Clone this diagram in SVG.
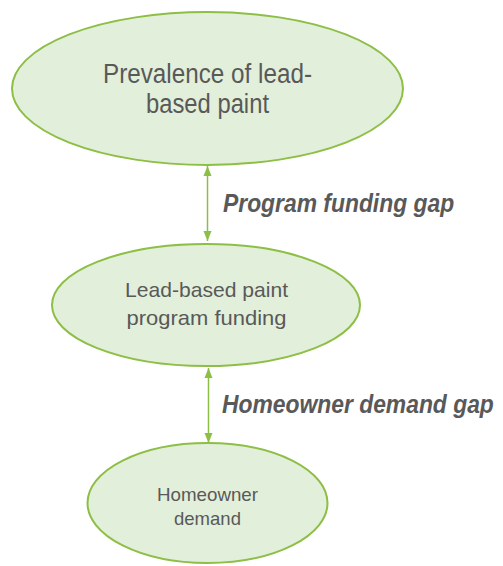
<svg xmlns="http://www.w3.org/2000/svg" width="503" height="566" viewBox="0 0 503 566">
<style>
.node{fill:#E2EFDA;stroke:#8DBE45;stroke-width:2}
.nt{fill:#595959;font-family:"Liberation Sans",Arial,sans-serif;text-anchor:middle}
.gap{fill:#595959;font-family:"Liberation Sans",Arial,sans-serif;font-weight:bold;font-style:italic;font-size:26px}
.conn{stroke:#8DBE45;stroke-width:1.5;fill:none}
</style>
<defs>
<marker id="ah" viewBox="0 0 10 10" refX="10" refY="5" markerWidth="10" markerHeight="10" markerUnits="userSpaceOnUse" orient="auto-start-reverse">
<path d="M0,1 L10,5 L0,9 Z" fill="#8DBE45"/>
</marker>
</defs>
<g id="connectors">
<line class="conn" x1="207.5" y1="166" x2="207.5" y2="241" marker-start="url(#ah)" marker-end="url(#ah)"/>
<line class="conn" x1="208.5" y1="368" x2="208.5" y2="443" marker-start="url(#ah)" marker-end="url(#ah)"/>
</g>
<g id="node-prevalence">
<ellipse class="node" cx="207.5" cy="88.5" rx="195.5" ry="76.5"/>
<text class="nt" font-size="27" x="207.5" y="83" textLength="209" lengthAdjust="spacingAndGlyphs">Prevalence of lead-</text>
<text class="nt" font-size="27" x="207.5" y="113" textLength="123" lengthAdjust="spacingAndGlyphs">based paint</text>
</g>
<g id="label-program-gap">
<text class="gap" transform="translate(223,212) scale(0.88,1)" x="0" y="0">Program funding gap</text>
</g>
<g id="node-funding">
<ellipse class="node" cx="206" cy="305" rx="154" ry="61"/>
<text class="nt" font-size="21" x="206.5" y="297" textLength="163" lengthAdjust="spacingAndGlyphs">Lead-based paint</text>
<text class="nt" font-size="21" x="206.5" y="325" textLength="160" lengthAdjust="spacingAndGlyphs">program funding</text>
</g>
<g id="label-homeowner-gap">
<text class="gap" transform="translate(222,413) scale(0.88,1)" x="0" y="0">Homeowner demand gap</text>
</g>
<g id="node-demand">
<ellipse class="node" cx="207.5" cy="503" rx="120" ry="60"/>
<text class="nt" font-size="19" x="207.5" y="501" textLength="101" lengthAdjust="spacingAndGlyphs">Homeowner</text>
<text class="nt" font-size="19" x="207.5" y="525" textLength="67" lengthAdjust="spacingAndGlyphs">demand</text>
</g>
</svg>
